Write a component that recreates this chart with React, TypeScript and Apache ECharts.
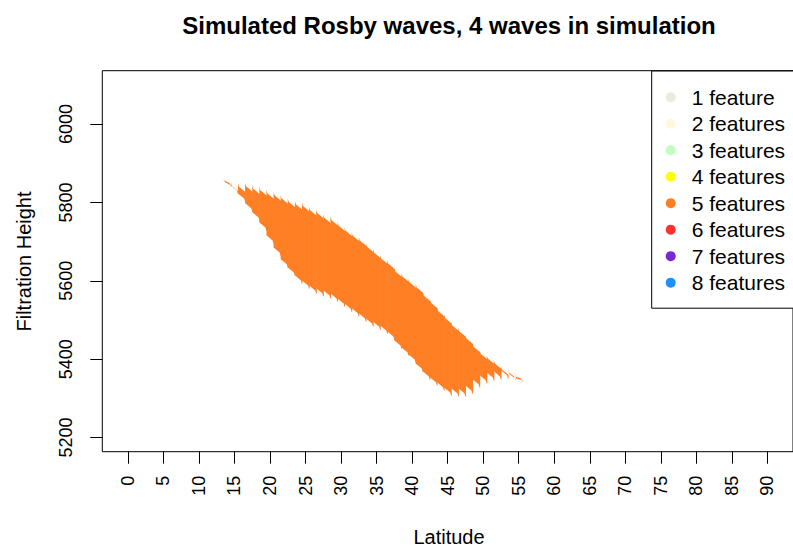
import React, { useEffect, useRef } from "react";
import * as echarts from "echarts";

// Latitude columns (degrees) and the height range covered in each column
const latitudes = [
  14, 15, 16, 17, 18, 19, 20, 21, 22, 23, 24, 25, 26, 27, 28, 29, 30, 31, 32, 33, 34,
  35, 36, 37, 38, 39, 40, 41, 42, 43, 44, 45, 46, 47, 48, 49, 50, 51, 52, 53, 54, 55,
];
const heightTop = [
  5861, 5851, 5849, 5850, 5844, 5840, 5832, 5827, 5819, 5810, 5804, 5800, 5789, 5782,
  5770, 5764, 5750, 5737, 5724, 5712, 5696, 5681, 5666, 5653, 5633, 5620, 5605, 5592,
  5571, 5553, 5532, 5514, 5495, 5480, 5462, 5441, 5423, 5411, 5398, 5383, 5372, 5360,
];
const heightBottom = [
  5839, 5821, 5801, 5776, 5753, 5727, 5694, 5663, 5633, 5612, 5592, 5579, 5566, 5559,
  5554, 5546, 5533, 5520, 5508, 5495, 5482, 5474, 5464, 5449, 5426, 5408, 5390, 5367,
  5347, 5332, 5319, 5306, 5304, 5304, 5311, 5327, 5337, 5344, 5347, 5350, 5347, 5342,
];

// Legend entries: number of detected features and their colours
const featureNames = [
  "1 feature", "2 features", "3 features", "4 features",
  "5 features", "6 features", "7 features", "8 features",
];
const featureColors = [
  "#EAEADF", "#FFF8DC", "#C1FFC1", "#FFFF00",
  "#FF7F24", "#FF3030", "#7D26CD", "#1E90FF",
];
const shownFeatureCount = "5 features";

// Axis ticks
const latitudeTicks = [0, 5, 10, 15, 20, 25, 30, 35, 40, 45, 50, 55, 60, 65, 70, 75, 80, 85, 90];
const heightTicks = [5200, 5400, 5600, 5800, 6000];

const FONT = "'Liberation Sans', Arial, Helvetica, sans-serif";

export default function App() {
  const ref = useRef<HTMLDivElement>(null);

  useEffect(() => {
    if (!ref.current) return;
    const chart = echarts.init(ref.current, null, { renderer: "svg" });

    const bandColor = featureColors[featureNames.indexOf(shownFeatureCount)];
    const columns = latitudes.map((lat, i) => [lat, heightBottom[i], heightTop[i]]);

    // Each latitude column is drawn as a jagged slab: a spike at its upper-left
    // corner and one at its lower-right corner, giving the saw-tooth edges.
    const renderColumn = (_params: any, api: any) => {
      const lat = api.value(0);
      const lo = api.value(1);
      const hi = api.value(2);
      const topRight = Math.max(hi - 22, lo + 4);
      const bottomLeft = Math.min(lo + 22, hi - 4);
      const pts = [
        [lat - 0.5, bottomLeft],
        [lat - 0.5, hi],
        [lat - 0.36, hi - 9],
        [lat + 0.5, topRight],
        [lat + 0.58, topRight - 2],
        [lat + 0.58, lo + 2],
        [lat + 0.5, lo],
        [lat + 0.36, lo + 9],
      ].map((p) => api.coord(p));
      return {
        type: "polygon",
        shape: { points: pts },
        style: { fill: bandColor },
      };
    };

    const series: any[] = featureNames.map((name, i) => {
      if (name === shownFeatureCount) {
        return {
          name,
          type: "custom",
          renderItem: renderColumn,
          data: columns,
          itemStyle: { color: featureColors[i], opacity: 1 },
          encode: { x: 0, y: [1, 2] },
          silent: true,
        };
      }
      return {
        name,
        type: "scatter",
        data: [],
        itemStyle: { color: featureColors[i], opacity: 1 },
      };
    });

    chart.setOption({
      animation: false,
      backgroundColor: "#ffffff",
      textStyle: { fontFamily: FONT },
      grid: {
        left: 102.3,
        top: 70.7,
        width: 693.4,
        height: 381,
        show: true,
        borderColor: "#000000",
        borderWidth: 1,
        backgroundColor: "transparent",
        containLabel: false,
      },
      xAxis: {
        type: "value",
        min: -3.6,
        max: 93.6,
        axisLine: { show: false, onZero: false },
        splitLine: { show: false },
        axisTick: {
          show: true,
          length: 12,
          lineStyle: { color: "#000", width: 1 },
          customValues: latitudeTicks,
        },
        axisLabel: {
          rotate: 90,
          margin: 24,
          fontSize: 18,
          color: "#000",
          fontFamily: FONT,
          customValues: latitudeTicks,
          formatter: (v: number) => String(v),
          showMinLabel: true,
          showMaxLabel: true,
        },
      },
      yAxis: {
        type: "value",
        min: 5164,
        max: 6136,
        axisLine: { show: false, onZero: false },
        splitLine: { show: false },
        axisTick: {
          show: true,
          length: 12,
          lineStyle: { color: "#000", width: 1 },
          customValues: heightTicks,
        },
        axisLabel: {
          rotate: 90,
          margin: 27,
          fontSize: 18,
          color: "#000",
          fontFamily: FONT,
          customValues: heightTicks,
          formatter: (v: number) => String(v),
          showMinLabel: true,
          showMaxLabel: true,
        },
      },
      legend: {
        data: featureNames.map((name) => ({ name, icon: "circle" })),
        orient: "vertical",
        left: 651.7,
        top: 71,
        padding: [15.7, 30, 15, 14],
        itemWidth: 32,
        itemHeight: 10,
        itemGap: 5.5,
        borderColor: "#000",
        borderWidth: 1,
        backgroundColor: "#fff",
        selectedMode: false,
        textStyle: { fontSize: 21, lineHeight: 21, color: "#000", fontFamily: FONT },
      },
      graphic: [
        {
          type: "text",
          x: 449,
          y: 25,
          style: {
            text: "Simulated Rosby waves, 4 waves in simulation",
            font: `bold 24px ${FONT}`,
            fill: "#000",
            textAlign: "center",
            textVerticalAlign: "middle",
          },
        },
        {
          type: "text",
          x: 449,
          y: 537,
          style: {
            text: "Latitude",
            font: `20px ${FONT}`,
            fill: "#000",
            textAlign: "center",
            textVerticalAlign: "middle",
          },
        },
        {
          type: "text",
          x: 24,
          y: 261.5,
          rotation: Math.PI / 2,
          style: {
            text: "Filtration Height",
            font: `20px ${FONT}`,
            fill: "#000",
            textAlign: "center",
            textVerticalAlign: "middle",
          },
        },
      ],
      series,
    });

    return () => chart.dispose();
  }, []);

  return (
    <div
      ref={ref}
      style={{ position: "absolute", left: 0, top: 0, width: 793, height: 551 }}
    />
  );
}
